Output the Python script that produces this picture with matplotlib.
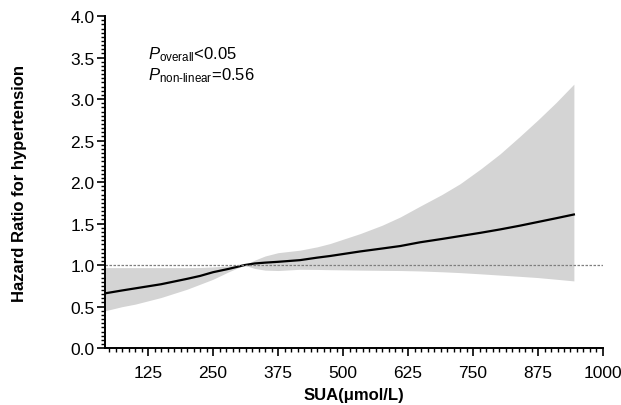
import matplotlib
matplotlib.use("Agg")
import matplotlib.pyplot as plt
import numpy as np
from matplotlib.ticker import MultipleLocator

plt.rcParams['font.family'] = ['Liberation Sans', 'DejaVu Sans']
plt.rcParams['mathtext.fontset'] = 'custom'
plt.rcParams['mathtext.rm'] = 'Liberation Sans'
plt.rcParams['mathtext.it'] = 'Liberation Sans:italic'

# values
sua = [42, 75, 100, 150, 200, 225, 250, 280, 310, 330, 350, 375, 417, 450, 475,
       533, 575, 610, 648, 690, 725, 765, 802, 840, 875, 910, 944]
hr = [0.66, 0.695, 0.72, 0.77, 0.835, 0.87, 0.915, 0.955, 1.0, 1.02, 1.03, 1.04, 1.06, 1.09, 1.11,
      1.165, 1.20, 1.23, 1.275, 1.315, 1.35, 1.39, 1.43, 1.475, 1.52, 1.565, 1.61]
ci_low = [0.45, 0.50, 0.53, 0.61, 0.71, 0.77, 0.83, 0.92, 1.0, 0.96, 0.94, 0.935, 0.95, 0.948, 0.945,
          0.94, 0.937, 0.935, 0.93, 0.92, 0.91, 0.895, 0.88, 0.865, 0.85, 0.83, 0.81]
ci_high = [0.97, 0.97, 0.97, 0.97, 0.97, 0.972, 0.978, 0.99, 1.0, 1.06, 1.11, 1.15, 1.18, 1.22, 1.26,
           1.38, 1.48, 1.58, 1.71, 1.85, 1.98, 2.16, 2.34, 2.55, 2.75, 2.96, 3.18]

fig = plt.figure(figsize=(6.21, 4.06), dpi=100)
ax = fig.add_axes([0.169, 0.140, 0.802, 0.818])

ax.fill_between(sua, ci_low, ci_high, color='#d4d4d4', linewidth=0)
ax.plot(sua, hr, color='black', linewidth=1.6)
ax.axhline(1.0, color='#7f7f7f', linestyle=(0, (2, 1.2)), linewidth=0.9)

ax.set_xlim(42, 1000)
ax.set_ylim(0, 4.0)
ax.xaxis.set_major_locator(MultipleLocator(125))
ax.xaxis.set_minor_locator(MultipleLocator(12.5))
ax.yaxis.set_major_locator(MultipleLocator(0.5))
ax.yaxis.set_minor_locator(MultipleLocator(0.05))
ax.yaxis.set_major_formatter(matplotlib.ticker.FormatStrFormatter('%.1f'))

for s in ['top', 'right']:
    ax.spines[s].set_visible(False)
for s in ['left', 'bottom']:
    ax.spines[s].set_linewidth(1.4)

ax.tick_params(which='major', direction='out', length=6, width=1.2, labelsize=12.5)
ax.tick_params(axis='y', which='major', pad=1.5)
ax.tick_params(axis='x', which='major', pad=6)
ax.tick_params(which='minor', direction='out', length=3, width=1.0)

ax.set_xlabel('SUA(μmol/L)', fontsize=12, fontweight='bold', labelpad=5)
ax.set_ylabel('Hazard Ratio for hypertension', fontsize=12, fontweight='bold', labelpad=31)

ax.text(125, 3.55, r'$P_{\mathrm{overall}}$<0.05', fontsize=12, va='center')
ax.text(125, 3.3, r'$P_{\mathrm{non\text{-}linear}}$=0.56', fontsize=12, va='center')

fig.savefig('out.png', dpi=100)
